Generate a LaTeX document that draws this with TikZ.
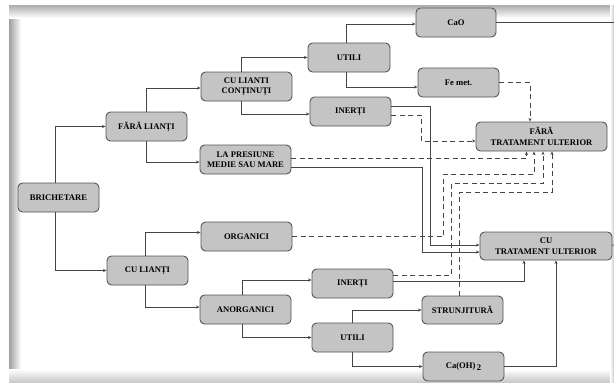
\documentclass[tikz,border=0pt]{standalone}
\usepackage{fontspec}
\setmainfont{Liberation Serif}
\usepackage{tikz}
\usetikzlibrary{arrows.meta,calc}
\definecolor{boxfill}{HTML}{C4C4C4}
\definecolor{boxline}{HTML}{555555}
\definecolor{wire}{HTML}{454545}

\begin{document}
\begin{tikzpicture}[x=1pt,y=-1pt,
  >={Stealth[length=3.5pt,width=3pt]},
  box/.style={draw=boxline,line width=0.9pt,fill=boxfill,rounded corners=4.5pt,
    minimum width=81pt,minimum height=29pt,inner sep=1pt,align=center,
    font=\bfseries\fontsize{8.6}{10.5}\selectfont},
  wbox/.style={box,minimum width=91pt},
  tbox/.style={box,minimum width=131pt},
  link/.style={draw=wire,line width=0.6pt},
  dlink/.style={link,dash pattern=on 5pt off 3.5pt}]
\useasboundingbox (0,0) rectangle (614,383);
\fill[white] (0,0) rectangle (614,383);
\shade[left color=gray!75,right color=white] (9,5) rectangle (21,383);
\shade[top color=gray!65,bottom color=white] (9,5) rectangle (614,18);
\shade[top color=white,bottom color=gray!45] (9,369) rectangle (614,383);
\shade[left color=white,right color=gray!40] (610,5) rectangle (614,383);

\node[box] (brich) at (58.5,197.5) {BRICHETARE};
\node[box] (fara) at (146.5,126.5) {FĂRĂ LIANȚI};
\node[box] (cuL) at (147.5,270.5) {CU LIANȚI};
\node[wbox] (cont) at (246.5,86.5) {CU LIANTI\\CONȚINUȚI};
\node[wbox] (pres) at (245.5,159.5) {LA PRESIUNE\\MEDIE SAU MARE};
\node[wbox] (org) at (246.5,236.5) {ORGANICI};
\node[wbox] (anorg) at (245.5,309.5) {ANORGANICI};
\node[box,minimum width=82pt] (utA) at (349,57.5) {UTILI};
\node[box,minimum width=80pt] (cao) at (456,22.5) {CaO};
\node[box] (fe) at (458.5,82.5) {Fe met.};
\node[box] (inA) at (350.5,111.5) {INERȚI};
\node[tbox] (faraT) at (541.5,136.5) {FĂRĂ\\TRATAMENT ULTERIOR};
\node[tbox,minimum width=132pt,minimum height=28pt] (cuT) at (546,246) {CU\\TRATAMENT ULTERIOR};
\node[box] (inB) at (352.5,283.5) {INERȚI};
\node[box,minimum height=28pt] (strun) at (462.5,310) {STRUNJITURĂ};
\node[box] (utB) at (352.5,337.5) {UTILI};
\node[box] (caoh) at (463.5,366.5) {Ca(OH)\,\raisebox{-2.5pt}{2}};
\coordinate (rOut) at (614,22.5);
\coordinate (rStub) at (614,244.5);

\draw[link,->] ([xshift=-3]brich.north) |- (fara.west);
\draw[link,->] ([xshift=-3]brich.south) |- (cuL.west);
\draw[link,->] (fara.north) |- ([yshift=-1.5]cont.west);
\draw[link,->] (fara.south) |- ([yshift=-2.5]pres.west);
\draw[link,->] ([xshift=-5]cont.north) |- (utA.west);
\draw[link,->] ([xshift=-5]cont.south) |- ([yshift=-2.5]inA.west);
\draw[link,->] ([xshift=-3]utA.north) |- ([yshift=-1.5]cao.west);
\draw[link,->] ([xshift=-3]utA.south) |- ([yshift=-4.5]fe.west);
\draw[link,->] ([xshift=-2]cuL.north) |- ([yshift=4]org.west);
\draw[link,->] ([xshift=-2]cuL.south) |- ([yshift=2.5]anorg.west);
\draw[link,->] ([xshift=-3]anorg.north) |- ([yshift=3.5]inB.west);
\draw[link,->] ([xshift=-3]anorg.south) |- (utB.west);
\draw[link,->] (utB.north) |- (strun.west);
\draw[link,->] (utB.south) |- (caoh.west);
\draw[link] (cao.east) -- (rOut);
\draw[link] (cuT.east) -- (rStub);

\draw[link,->] ([yshift=5.5]inA.east) -- ++(39,0) |- ([yshift=1]cuT.west);
\draw[link,->] ([yshift=-7.5]pres.east) -- ++(131,0) |- ([yshift=-6]cuT.west);
\draw[link,->] ([yshift=2.5]inB.east) -| ([xshift=-22]cuT.south);
\draw[link,->] (caoh.east) -| ([xshift=10]cuT.south);

\draw[dlink,->] (fe.east) -| ([xshift=-11.5]faraT.north);
\draw[dlink,->] ([yshift=-3.5]inA.east) -- ++(30,0) |- ([yshift=-4.5]faraT.west);
\draw[dlink,->] ([yshift=1]pres.east) -| ([xshift=-15]faraT.south);
\draw[dlink,->] (org.east) -- ++(151,0) |- ($(faraT.south)+(-7.5,23)$) -- ($(faraT.south)+(-7.5,0)$);
\draw[dlink,->] ([yshift=8.5]inB.east) -- ++(58,0) |- ($(faraT.south)+(1.5,32)$) -- ($(faraT.south)+(1.5,0)$);
\draw[dlink,->] ([xshift=-3.5]strun.north) |- ($(faraT.south)+(10.5,41)$) -- ($(faraT.south)+(10.5,0)$);
\end{tikzpicture}
\end{document}
